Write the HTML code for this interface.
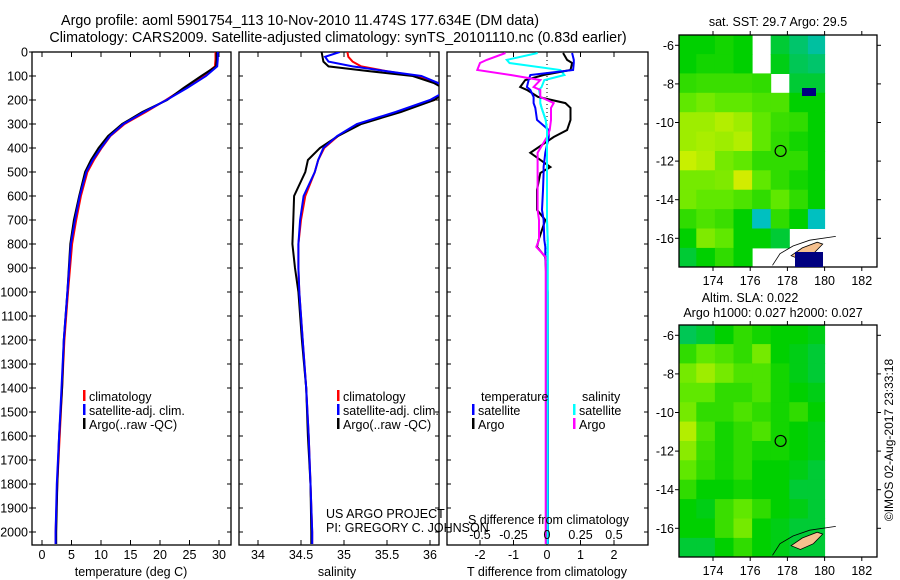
<!DOCTYPE html>
<html><head><meta charset="utf-8">
<style>
html,body{margin:0;padding:0;background:#fff;}
svg{display:block;font-family:"Liberation Sans",sans-serif;font-size:12.5px;}
</style></head>
<body>
<svg id="fig" width="900" height="580" viewBox="0 0 900 580">
<g>
<text x="300" y="25" text-anchor="middle" font-size="14.3">Argo profile: aoml 5901754_113 10-Nov-2010 11.474S 177.634E (DM data)</text>
<text x="338" y="42" text-anchor="middle" font-size="14.3">Climatology: CARS2009. Satellite-adjusted climatology: synTS_20101110.nc (0.83d earlier)</text>
</g>
<g id="p1"></g>
<g id="p2"></g>
<g id="p3"></g>
<g id="m1"></g>
<g id="m2"></g>
<text x="893" y="440" transform="rotate(-90 893 440)" text-anchor="middle" font-size="12">©IMOS 02-Aug-2017 23:33:18</text>
</svg>
<script>
// ---------- data ----------
const tDepth = [0,30,60,100,150,200,250,300,350,400,450,500,600,700,800,1000,1200,1400,1600,1800,2000,2050];
const tClim  = [29.4,29.4,29.3,27.3,24.2,21.0,17.6,14.0,11.6,10.1,8.8,7.7,6.6,5.8,5.1,4.4,3.8,3.4,3.0,2.6,2.3,2.3];
const tSat   = [29.8,29.8,29.7,27.8,24.6,21.1,17.3,13.8,11.5,10.0,8.6,7.5,6.4,5.6,4.9,4.3,3.7,3.3,2.9,2.5,2.3,2.3];
const tArgo  = [29.6,29.6,29.5,27.0,24.0,21.2,17.0,13.6,11.2,9.6,8.3,7.3,6.3,5.4,4.8,4.3,3.7,3.4,2.9,2.6,2.4,2.4];
const sDepth = [0,20,40,60,80,100,130,160,200,250,300,350,400,450,500,600,700,800,900,1000,1200,1400,1600,1800,2000,2050];
const sClim  = [35.04,35.05,35.1,35.2,35.5,35.85,36.1,36.2,36.05,35.62,35.18,34.93,34.77,34.7,34.66,34.55,34.5,34.47,34.47,34.48,34.52,34.56,34.59,34.61,34.63,34.63];
const sSat   = [34.95,34.78,34.82,35.1,35.5,35.9,36.1,36.2,36.0,35.6,35.15,34.92,34.76,34.7,34.66,34.53,34.49,34.47,34.47,34.48,34.52,34.56,34.59,34.61,34.63,34.63];
const sArgo  = [34.74,34.75,34.76,34.82,35.3,35.8,36.05,36.2,36.05,35.66,35.2,34.93,34.72,34.58,34.55,34.42,34.41,34.4,34.43,34.47,34.51,34.56,34.58,34.61,34.62,34.62];
const dDepth = [4,33,46,75,96,117,146,158,187,213,233,283,325,354,420,479,504,575,658,700,783,812,854,1000,1500,2050];
const dTArgo = [0.48,0.6,0.75,0.7,-0.1,-0.65,-0.8,-0.6,-0.27,0.55,0.7,0.7,0.6,0.2,-0.5,0.1,-0.2,-0.3,-0.3,-0.05,-0.25,-0.3,-0.05,0,0.01,0];
const dTSat  = [0.75,0.8,0.8,0.78,-0.5,-0.55,-0.6,-0.5,-0.4,-0.4,-0.35,-0.3,0.05,0.05,-0.05,-0.1,-0.1,-0.12,-0.15,-0.1,-0.08,-0.05,-0.05,0.02,0.03,0.03];
const dSArgo = [-0.31,-0.45,-0.5,-0.52,-0.27,-0.05,-0.1,-0.05,-0.05,0.05,0.03,0.03,0.02,0,-0.07,-0.07,-0.07,-0.07,-0.07,-0.06,-0.06,-0.08,-0.01,-0.01,-0.01,-0.01];
const dSSat  = [-0.07,-0.3,-0.28,0.1,0.13,-0.02,-0.04,-0.06,-0.05,-0.05,-0.04,-0.01,0,0,0,0,0,0,0,0,0.005,0.005,0.005,0.005,0.005,0.005];
const depthTicks = [0,100,200,300,400,500,600,700,800,900,1000,1100,1200,1300,1400,1500,1600,1700,1800,1900,2000];
const tTicks = [0,5,10,15,20,25,30];
const sTicks = [34,34.5,35,35.5,36];
const dTTicks = [-2,-1,0,1,2];
const dSTicks = [-0.5,-0.25,0,0.25,0.5];
const dSTickLabels = ["-0.5","-0.25","0","0.25","0.5"];
const lonTicks = [174,176,178,180,182];
const latTicks = [-6,-8,-10,-12,-14,-16];
const sstGrid = [
[.5,.5,.52,.5,-1,.45,.4,.35],
[.5,.52,.52,.5,-1,.48,.42,.4],
[.55,.56,.56,.56,.55,-1,.45,.45],
[.6,.62,.6,.6,.58,.58,.5,.5],
[.66,.66,.68,.66,.6,.56,.55,.5],
[.66,.67,.66,.68,.6,.55,.52,.5],
[.7,.68,.62,.6,.55,.55,.55,.5],
[.62,.62,.63,.72,.6,.55,.52,.5],
[.62,.6,.6,.58,.55,.6,.55,.5],
[.55,.58,.56,.5,.3,.55,.5,.3],
[.5,.63,.6,.5,.5,.45,-1,-1],
[.45,.5,.55,.5,-1,-1,-1,-1]];
const slaGrid = [
[.42,.45,.5,.55,.52,.5,.5,.48],
[.55,.6,.58,.55,.62,.5,.48,.45],
[.62,.66,.62,.58,.58,.52,.48,.45],
[.6,.6,.55,.55,.58,.52,.5,.48],
[.62,.55,.55,.58,.55,.52,.55,.5],
[.68,.58,.52,.55,.58,.52,.5,.48],
[.64,.56,.52,.55,.52,.52,.5,.48],
[.6,.55,.52,.55,.5,.5,.48,.45],
[.55,.5,.5,.52,.5,.5,.45,.45],
[.5,.48,.56,.6,.55,.5,.48,.45],
[.5,.5,.56,.62,.5,.48,.45,.45],
[.45,.45,.5,.55,.5,.48,.45,.45]];
const floatLon = 177.634, floatLat = -11.474;

// ---------- helpers ----------
const NS="http://www.w3.org/2000/svg";
function mk(tag, attrs, parent){const e=document.createElementNS(NS,tag);for(const k in attrs)e.setAttribute(k,attrs[k]);parent.appendChild(e);return e;}
function txt(s,x,y,anchor,parent,fs){const e=mk('text',{x:x,y:y,'text-anchor':anchor||'start'},parent);if(fs)e.setAttribute('font-size',fs);e.textContent=s;return e;}
const yD = d => 52 + d*0.24;
const PT={x0:32,x1:231}, PS={x0:239,x1:439}, PD={x0:447,x1:648};
const xT = t => 42 + t*5.9;
const xS = s => 258 + (s-34)*86;
const xDT = v => 547 + v*33.5;
const xDS = v => 547 + v*134;

function frame(g,P,name){
  const r=mk('rect',{x:P.x0,y:52,width:P.x1-P.x0,height:493,fill:'none',stroke:'#000','stroke-width':1.3},g);
  
  
}
function clipFor(id,P){const d=mk('clipPath',{id:id},document.getElementById('fig'));mk('rect',{x:P.x0,y:52,width:P.x1-P.x0,height:493},d);}
function line(g,xs,ds,fx,color,name,clip,w){
  const pts=xs.map((v,i)=>fx(v).toFixed(1)+','+yD(ds[i]).toFixed(1)).join(' ');
  const p=mk('polyline',{points:pts,fill:'none',stroke:color,'stroke-width':w||2,'clip-path':'url(#'+clip+')'},g);
  
  
}
function xticks(g,P,ticks,fx,labels,ylab){
  ticks.forEach((t,i)=>{const x=fx(t);
    mk('line',{x1:x,y1:52,x2:x,y2:57,stroke:'#000'},g);
    mk('line',{x1:x,y1:545,x2:x,y2:540,stroke:'#000'},g);
    if(labels){const e=txt(labels[i],x,ylab,'middle',g);
      
      }
  });
}
function yticksIn(g,P){depthTicks.forEach(d=>{const y=yD(d);mk('line',{x1:P.x0,y1:y,x2:P.x0+4,y2:y,stroke:'#000'},g);mk('line',{x1:P.x1,y1:y,x2:P.x1-4,y2:y,stroke:'#000'},g);});}
function legendEntry(g,x,y,color,label){
  const grp=mk('g',{},g);
  
  
  mk('rect',{x:x,y:y-11,width:2.5,height:11,fill:color},grp);
  txt(label,x+6,y,'start',grp);
}

// ---------- panel 1 ----------
const g1=document.getElementById('p1');
clipFor('c1',PT);
frame(g1,PT,'temperature-frame');
depthTicks.forEach(d=>{const e=txt(String(d),28,yD(d)+4.5,'end',g1);
  
  });
depthTicks.forEach(d=>{const y=yD(d);mk('line',{x1:PT.x0,y1:y,x2:PT.x0-3,y2:y,stroke:'#000'},g1);});
yticksIn(g1,PT);
xticks(g1,PT,tTicks,xT,tTicks.map(String),559);
line(g1,tClim,tDepth,xT,'#f00','temp-climatology-line','c1');
line(g1,tArgo,tDepth,xT,'#000','temp-argo-line','c1');
line(g1,tSat,tDepth,xT,'#00f','temp-satellite-line','c1');
const xl1=txt('temperature (deg C)',131,576,'middle',g1);


legendEntry(g1,83,401,'#f00','climatology');
legendEntry(g1,83,415,'#00f','satellite-adj. clim.');
legendEntry(g1,83,429,'#000','Argo(..raw -QC)');

// ---------- panel 2 ----------
const g2=document.getElementById('p2');
clipFor('c2',PS);
frame(g2,PS,'salinity-frame');
yticksIn(g2,PS);
xticks(g2,PS,sTicks,xS,["34","34.5","35","35.5","36"],559);
line(g2,sClim,sDepth,xS,'#f00','sal-climatology-line','c2');
line(g2,sArgo,sDepth,xS,'#000','sal-argo-line','c2');
line(g2,sSat,sDepth,xS,'#00f','sal-satellite-line','c2');
const xl2=txt('salinity',337,576,'middle',g2);


legendEntry(g2,337,401,'#f00','climatology');
legendEntry(g2,337,415,'#00f','satellite-adj. clim.');
legendEntry(g2,337,429,'#000','Argo(..raw -QC)');
const pr=mk('g',{},g2);


txt('US ARGO PROJECT',326,518,'start',pr);
txt('PI: GREGORY C. JOHNSON',326,532,'start',pr);

// ---------- panel 3 ----------
const g3=document.getElementById('p3');
clipFor('c3',PD);
frame(g3,PD,'difference-frame');
yticksIn(g3,PD);
xticks(g3,PD,dTTicks,xDT,dTTicks.map(String),559);
mk('line',{x1:xDT(0),y1:52,x2:xDT(0),y2:350,stroke:'#000','stroke-dasharray':'1,3'},g3);
line(g3,dSSat,dDepth,xDS,'#0ff','sdiff-satellite-line','c3');
line(g3,dTArgo,dDepth,xDT,'#000','tdiff-argo-line','c3');
line(g3,dTSat,dDepth,xDT,'#00f','tdiff-satellite-line','c3');
line(g3,dSArgo,dDepth,xDS,'#f0f','sdiff-argo-line','c3');
line(g3,dSSat.slice(9),dDepth.slice(9),xDS,'#0ff','sdiff-satellite-lower','c3');
dSTicks.forEach((t,i)=>{const e=txt(dSTickLabels[i],xDS(t),539,'middle',g3);
  
  });
const st=txt('S difference from climatology',468,524,'start',g3);


const tt=txt('T difference from climatology',547,576,'middle',g3);


txt('temperature',481,401,'start',g3);
legendEntry(g3,472,415,'#00f','satellite');
legendEntry(g3,472,429,'#000','Argo');
txt('salinity',582,401,'start',g3);
legendEntry(g3,573,415,'#0ff','satellite');
legendEntry(g3,573,429,'#f0f','Argo');

// ---------- maps ----------
const stops=[[0,[0,0,128]],[0.2,[0,192,255]],[0.35,[0,192,160]],[0.5,[0,208,0]],[0.6,[96,232,0]],[0.7,[200,240,0]],[0.78,[240,224,0]],[0.9,[255,128,0]]];
function cmap(v){for(let i=1;i<stops.length;i++){if(v<=stops[i][0]){const a=stops[i-1],b=stops[i],f=(v-a[0])/(b[0]-a[0]);return 'rgb('+a[1].map((c,k)=>Math.round(c+(b[1][k]-c)*f)).join(',')+')';}}return 'rgb(255,128,0)';}
function drawMap(id,grid,y0,titles){
  const g=document.getElementById(id);
  const X0=679,X1=877,Y1=y0+232;
  const lx = lon => 713 + (lon-174)*18.6;
  const ly = lat => (y0+10.3) + (-6-lat)*19.3;
  const lonEdge=[172.1,173.1,174.1,175.1,176.1,177.1,178.1,179.1,180.0];
  const latTop=-5.45, dLat=12.05/12;
  grid.forEach((row,r)=>row.forEach((v,c)=>{
    if(v<0) return;
    const x=lx(lonEdge[c]), x2=lx(lonEdge[c+1]);
    const ya=Math.max(y0,ly(latTop-r*dLat)), yb=Math.min(Y1,ly(latTop-(r+1)*dLat));
    const cell=mk('rect',{x:Math.max(X0,x).toFixed(1),y:ya.toFixed(1),width:(x2-Math.max(X0,x)+0.5).toFixed(1),height:(yb-ya+0.5).toFixed(1),fill:cmap(v)},g);
    
    
  }));
  const land=mk('polygon',{points:[[178.2,-16.9],[178.8,-16.5],[179.6,-16.2],[179.9,-16.3],[179.4,-16.8],[178.7,-17.1]].map(p=>lx(p[0]).toFixed(1)+','+ly(p[1]).toFixed(1)).join(' '),fill:'#f5c08e',stroke:'#000','stroke-width':0.8},g);
  
  
  mk('polyline',{points:[[177.2,-17.4],[177.6,-16.8],[178.3,-16.4],[179.2,-16.1],[180.6,-15.9]].map(p=>lx(p[0]).toFixed(1)+','+ly(p[1]).toFixed(1)).join(' '),fill:'none',stroke:'#000','stroke-width':0.8},g);
  const fl=mk('circle',{cx:lx(floatLon),cy:ly(floatLat),r:5.5,fill:'none',stroke:'#000','stroke-width':1.2},g);
  
  
  const fr=mk('rect',{x:X0,y:y0,width:X1-X0,height:232,fill:'none',stroke:'#000','stroke-width':1.3},g);
  
  
  lonTicks.forEach(l=>{const x=lx(l);mk('line',{x1:x,y1:y0,x2:x,y2:y0-4,stroke:'#000'},g);mk('line',{x1:x,y1:Y1,x2:x,y2:Y1+4,stroke:'#000'},g);
    const e=txt(String(l),x,Y1+18,'middle',g);
    
    });
  latTicks.forEach(l=>{const y=ly(l);mk('line',{x1:X0,y1:y,x2:X0-4,y2:y,stroke:'#000'},g);mk('line',{x1:X1,y1:y,x2:X1+4,y2:y,stroke:'#000'},g);
    const e=txt(String(l),674,y+4.5,'end',g);
    
    });
  titles.forEach((t,i)=>{const e=txt(t[0],t[1],t[2],'middle',g);
    
    });
}
drawMap('m1',sstGrid,35,[['sat. SST: 29.7 Argo: 29.5',778,26]]);
drawMap('m2',slaGrid,325,[['Altim. SLA: 0.022',750,302],['Argo h1000: 0.027 h2000: 0.027',773,317]]);
(function(){const g=document.getElementById('m1');
  const a=mk('rect',{x:802,y:88,width:14,height:8,fill:'#000080'},g);
  
  
  const b=mk('rect',{x:795,y:252,width:28,height:15,fill:'#000080'},g);
  
  
})();
</script>
</body></html>
